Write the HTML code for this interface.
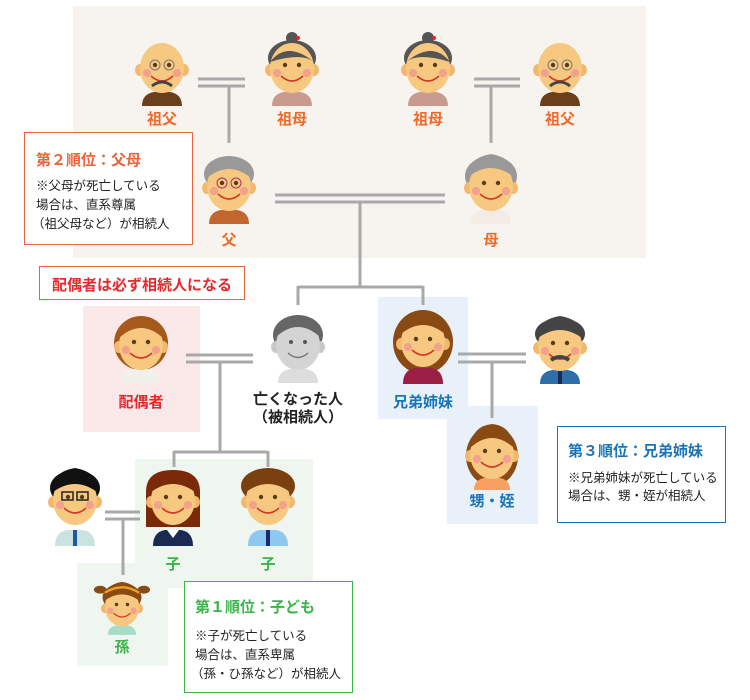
<!DOCTYPE html>
<html><head><meta charset="utf-8"><style>
body{margin:0;background:#fff;}
svg{display:block;font-family:"Liberation Sans","Noto Sans CJK JP",sans-serif;}
.lb{font-size:15px;font-weight:bold;text-anchor:middle}
.ln{stroke:#a9a9a9;stroke-width:3;fill:none}
.s{font-size:12.5px;fill:#222}
</style></head><body>
<svg width="750" height="700" viewBox="0 0 750 700" xmlns="http://www.w3.org/2000/svg">
<defs>
<g id="f">
 <ellipse cx="-22" cy="30" rx="5" ry="6" fill="#f2b86d"/><ellipse cx="22" cy="30" rx="5" ry="6" fill="#f2b86d"/>
 <ellipse cx="0" cy="28" rx="22" ry="25" fill="#f7c87f"/>
 <circle cx="-7" cy="25" r="2.2" fill="#5a3a1a"/><circle cx="7" cy="25" r="2.2" fill="#5a3a1a"/>
 <circle cx="-15" cy="33" r="4" fill="#f3a08c"/><circle cx="15" cy="33" r="4" fill="#f3a08c"/>
 <path d="M-11 36 Q0 46 11 36" stroke="#d8352a" stroke-width="1.6" fill="none"/>
</g>
</defs>
<rect x="73" y="6" width="573" height="252" fill="#f7f3ee"/>
<rect x="83" y="306" width="117" height="126" fill="#fbe9ea"/>
<rect x="378" y="297" width="90" height="122" fill="#e8f1fa"/>
<rect x="447" y="406" width="91" height="118" fill="#e8f1fa"/>
<rect x="135" y="459" width="178" height="129" fill="#eef6ef"/>
<rect x="77" y="563" width="91" height="103" fill="#eef6ef"/>

<!-- lines -->
<path class="ln" d="M198 79H245M198 86H245M229 86V143"/>
<path class="ln" d="M474 79H520M474 86H520M491 86V143"/>
<path class="ln" d="M275 195H445M275 202H445M360 202V287M298 287H423M298 286V305M423 286V305"/>
<path class="ln" d="M186 355H253M186 362H253M220 362V452M174 452H267M174 451V467M268 451V467"/>
<path class="ln" d="M458 354H526M458 362H526M492 362V418"/>
<path class="ln" d="M105 512H140M105 519H140M123 519V575"/>

<!-- grandparents -->
<g transform="translate(162,40)"><path d="M-20 66Q-20 54-8 52H8Q20 54 20 66Z" fill="#6b3f1c"/><use href="#f"/><path d="M-10 46Q0 38 10 46" stroke="#444" stroke-width="3" fill="none"/><circle cx="-7" cy="25" r="5" fill="none" stroke="#777"/><circle cx="7" cy="25" r="5" fill="none" stroke="#777"/></g>
<g transform="translate(292,40)"><circle cx="0" cy="-2" r="6" fill="#555"/><ellipse cx="0" cy="18" rx="24" ry="18" fill="#555"/><path d="M-20 66Q-20 54-8 52H8Q20 54 20 66Z" fill="#c99a8e"/><use href="#f"/><path d="M-22 22Q-5 0 22 22Q10 12-22 22" fill="#555"/><circle cx="6" cy="-2" r="2" fill="#e22"/></g>
<g transform="translate(428,40)"><circle cx="0" cy="-2" r="6" fill="#555"/><ellipse cx="0" cy="18" rx="24" ry="18" fill="#555"/><path d="M-20 66Q-20 54-8 52H8Q20 54 20 66Z" fill="#c99a8e"/><use href="#f"/><path d="M-22 22Q5 0 22 22Q-10 12-22 22" fill="#555"/><circle cx="6" cy="-2" r="2" fill="#e22"/></g>
<g transform="translate(560,40)"><path d="M-20 66Q-20 54-8 52H8Q20 54 20 66Z" fill="#6b3f1c"/><use href="#f"/><path d="M-10 46Q0 38 10 46" stroke="#444" stroke-width="3" fill="none"/><circle cx="-7" cy="25" r="5" fill="none" stroke="#777"/><circle cx="7" cy="25" r="5" fill="none" stroke="#777"/></g>
<g fill="#ee6a2a" class="lb"><text x="162" y="124">祖父</text><text x="292" y="124">祖母</text><text x="428" y="124">祖母</text><text x="560" y="124">祖父</text><text x="229" y="245">父</text><text x="491" y="245">母</text></g>

<!-- parents -->
<g transform="translate(229,158)"><ellipse cx="0" cy="16" rx="25" ry="18" fill="#999"/><path d="M-20 66Q-20 54-8 52H8Q20 54 20 66Z" fill="#c0662e"/><use href="#f"/><path d="M-22 20Q0 2 22 20Q24 6 0 -2Q-24 6-22 20" fill="#999"/><circle cx="-7" cy="25" r="5" fill="none" stroke="#b0306a"/><circle cx="7" cy="25" r="5" fill="none" stroke="#b0306a"/></g>
<g transform="translate(491,158)"><ellipse cx="0" cy="18" rx="26" ry="20" fill="#999"/><path d="M-20 66Q-20 54-8 52H8Q20 54 20 66Z" fill="#f2ece4"/><use href="#f"/><path d="M-24 20Q0 0 24 20Q24 0 0-4Q-24 0-24 20" fill="#999"/></g>

<!-- generation 2 -->
<g transform="translate(141,317)"><ellipse cx="0" cy="26" rx="27" ry="27" fill="#a55a1c"/><path d="M-20 66Q-20 54-8 52H8Q20 54 20 66Z" fill="#f2f0ea"/><use href="#f"/><path d="M-23 22Q0 0 23 22Q20 2 0 0Q-20 2-23 22" fill="#a55a1c"/></g>
<g transform="translate(298,317)"><ellipse cx="0" cy="18" rx="25" ry="20" fill="#666"/><path d="M-20 66Q-20 54-8 52H8Q20 54 20 66Z" fill="#ddd"/><ellipse cx="-22" cy="30" rx="5" ry="6" fill="#c8c8c8"/><ellipse cx="22" cy="30" rx="5" ry="6" fill="#c8c8c8"/><ellipse cx="0" cy="28" rx="22" ry="25" fill="#d4d4d4"/><path d="M-22 20Q0 0 22 20Q24 2 0-2Q-24 2-22 20" fill="#666"/><circle cx="-7" cy="25" r="2" fill="#555"/><circle cx="7" cy="25" r="2" fill="#555"/><path d="M-10 36Q0 45 10 36" stroke="#777" stroke-width="1.5" fill="none"/></g>
<g transform="translate(423,314)"><ellipse cx="0" cy="28" rx="30" ry="32" fill="#8a4a14"/><path d="M-20 70Q-20 56-8 54H8Q20 56 20 70Z" fill="#9b1e44"/><use href="#f"/><path d="M-22 20Q0 2 22 20Q20 0 0-2Q-20 0-22 20" fill="#8a4a14"/></g>
<g transform="translate(560,318)"><ellipse cx="0" cy="16" rx="25" ry="16" fill="#444"/><path d="M-20 66Q-20 54-8 52H8Q20 54 20 66Z" fill="#2e6faa"/><rect x="-2" y="52" width="4" height="14" fill="#1a2a50"/><use href="#f"/><path d="M-22 20Q0 4 22 20Q24 2 0-2Q-24 2-22 20" fill="#444"/><path d="M-9 42Q0 36 9 42" stroke="#444" stroke-width="4" fill="none"/></g>
<text x="141" y="407" class="lb" fill="#e6282e">配偶者</text>
<text x="298" y="404" class="lb" fill="#222">亡くなった人</text>
<text x="298" y="422" class="lb" fill="#222">（被相続人）</text>
<text x="423" y="407" class="lb" fill="#1a74b8">兄弟姉妹</text>
<g transform="translate(492,426)"><ellipse cx="0" cy="30" rx="26" ry="30" fill="#8a4a14"/><path d="M-18 64Q-18 54-8 52H8Q18 54 18 64Z" fill="#f7a060"/><use href="#f"/><path d="M-22 22Q0 2 22 22Q20 0 0-2Q-20 0-22 22" fill="#8a4a14"/></g>
<text x="492" y="506" class="lb" fill="#1a74b8">甥・姪</text>

<!-- children -->
<g transform="translate(75,472)"><ellipse cx="0" cy="16" rx="25" ry="18" fill="#111"/><path d="M-20 74Q-20 60-8 58H8Q20 60 20 74Z" fill="#c9e4e0"/><rect x="-2" y="58" width="4" height="16" fill="#2058a0"/><use href="#f"/><path d="M-22 20Q0 4 22 20Q24 0 0-4Q-24 0-22 20" fill="#111"/><rect x="-13" y="20" width="11" height="8" fill="none" stroke="#222" stroke-width="1.5"/><rect x="2" y="20" width="11" height="8" fill="none" stroke="#222" stroke-width="1.5"/></g>
<g transform="translate(173,472)"><path d="M-27 20Q-27-2 0-2Q27-2 27 20V55H-27Z" fill="#7a2a08"/><path d="M-20 74Q-20 60-8 58H8Q20 60 20 74Z" fill="#1a2a50"/><path d="M-6 58L0 66L6 58Z" fill="#fff"/><use href="#f"/><path d="M-22 20Q0 4 22 20Q20 0 0-2Q-20 0-22 20" fill="#7a2a08"/></g>
<g transform="translate(268,472)"><ellipse cx="0" cy="14" rx="27" ry="18" fill="#7a4010"/><path d="M-20 74Q-20 60-8 58H8Q20 60 20 74Z" fill="#8cc8f0"/><rect x="-2" y="58" width="4" height="16" fill="#1a2a70"/><use href="#f"/><path d="M-22 20Q0 4 22 20Q26 0 0-4Q-26 0-22 20" fill="#7a4010"/></g>
<text x="173" y="569" class="lb" fill="#3bb44a">子</text><text x="268" y="569" class="lb" fill="#3bb44a">子</text>
<g transform="translate(122,585) scale(0.78)"><ellipse cx="0" cy="16" rx="25" ry="18" fill="#8a4a14"/><ellipse cx="-28" cy="6" rx="8" ry="5" fill="#8a4a14"/><ellipse cx="28" cy="6" rx="8" ry="5" fill="#8a4a14"/><path d="M-18 64Q-18 54-8 52H8Q18 54 18 64Z" fill="#a8dcc8"/><use href="#f"/><path d="M-22 20Q0 4 22 20Q24 0 0-4Q-24 0-22 20" fill="#8a4a14"/><path d="M-22 10Q0-4 22 10" stroke="#f0a020" stroke-width="3" fill="none"/></g>
<text x="122" y="652" class="lb" fill="#3bb44a">孫</text>

<!-- info boxes -->
<rect x="24.5" y="132.5" width="168" height="112" fill="#fff" stroke="#e8643a"/>
<text x="36" y="165" font-size="15" font-weight="bold" fill="#e8643a">第２順位：父母</text>
<text x="36" y="190" class="s">※父母が死亡している</text>
<text x="36" y="209" class="s">場合は、直系尊属</text>
<text x="32" y="228" class="s">（祖父母など）が相続人</text>

<rect x="39.5" y="266.5" width="205" height="33" fill="#fff" stroke="#e8643a"/>
<text x="142" y="290" class="lb" fill="#e6282e">配偶者は必ず相続人になる</text>

<rect x="557.5" y="426.5" width="168" height="96" fill="#fff" stroke="#1a74b8"/>
<text x="568" y="456" font-size="15" font-weight="bold" fill="#1a74b8">第３順位：兄弟姉妹</text>
<text x="568" y="482" class="s">※兄弟姉妹が死亡している</text>
<text x="568" y="500" class="s">場合は、甥・姪が相続人</text>

<rect x="184.5" y="581.5" width="168" height="111" fill="#fff" stroke="#3bb44a"/>
<text x="195" y="612" font-size="15" font-weight="bold" fill="#3bb44a">第１順位：子ども</text>
<text x="195" y="640" class="s">※子が死亡している</text>
<text x="195" y="659" class="s">場合は、直系卑属</text>
<text x="191" y="678" class="s">（孫・ひ孫など）が相続人</text>
</svg>
</body></html>
